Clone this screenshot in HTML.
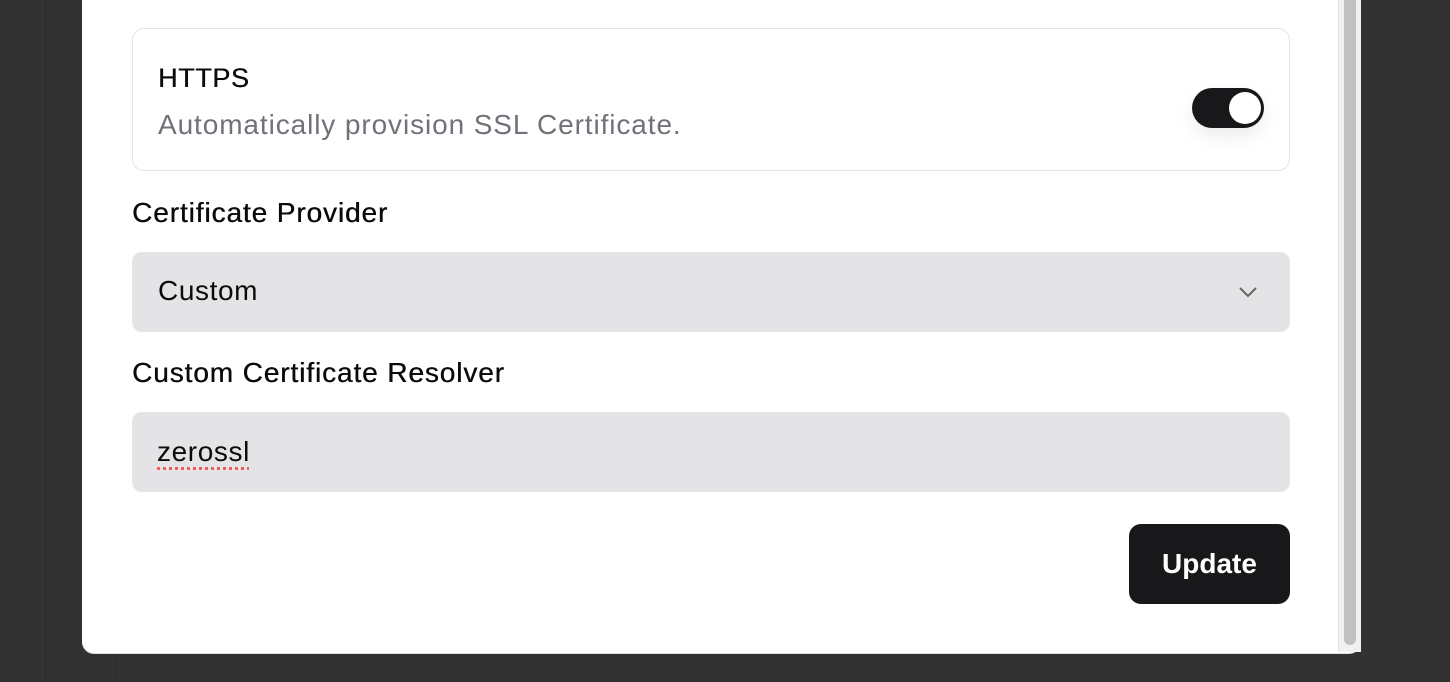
<!DOCTYPE html>
<html><head><style>
body{margin:0;width:1450px;height:682px;background:#323232;position:relative;overflow:hidden;font-family:"Liberation Sans",sans-serif}
.l{position:absolute;top:0;bottom:0;width:1px;background:#2a2a2a}
.panel{position:absolute;left:82px;top:-20px;width:1279px;height:673px;background:#fff;border-radius:12px;box-shadow:0 1px 0 #ddd}
.sb{position:absolute;left:1338px;top:0;width:22px;height:652px;background:#f1f1f1;border-left:1px solid #e4e4e4}
.thumb{position:absolute;left:1344px;top:0;width:12px;height:645px;background:#c1c1c1;border-radius:0 0 6px 6px}
.card{position:absolute;left:132px;top:28px;width:1156px;height:141px;border:1px solid #e4e4e7;border-radius:12px;background:#fff}
.t{position:absolute;color:#0b0b0c;font-size:28px;letter-spacing:0.6px}
.m{text-shadow:0.4px 0 0 #0b0b0c}
.inp{position:absolute;left:132px;width:1158px;height:80px;background:#e4e4e7;border-radius:10px}
.tog{position:absolute;left:1192px;top:88px;width:72px;height:40px;background:#18181b;border-radius:20px;box-shadow:0 8px 18px rgba(0,0,0,.08)}
.knob{position:absolute;right:3px;top:4px;width:32px;height:32px;background:#fff;border-radius:50%}
.btn{position:absolute;left:1129px;top:524px;width:161px;height:80px;background:#18181b;border-radius:12px;color:#fff;font-size:28px;font-weight:bold;text-align:center;line-height:80px}
</style></head><body>
<div class="l" style="left:45px"></div><div class="l" style="left:115px"></div>
<div class="panel"></div>
<div class="sb"></div><div class="thumb"></div>
<div class="card"></div>
<div class="t m" style="left:158px;top:63px;font-size:27px">HTTPS</div>
<div class="t" style="left:158px;top:109px;color:#71717a;letter-spacing:0.9px">Automatically provision SSL Certificate.</div>
<div class="tog"><div class="knob"></div></div>
<div class="t m" style="left:132px;top:197px;letter-spacing:0.9px">Certificate Provider</div>
<div class="inp" style="top:252px"></div>
<div class="t" style="left:158px;top:275px">Custom</div>
<svg style="position:absolute;left:1238px;top:285px" width="20" height="14"><path d="M2 3l8 8 8-8" fill="none" stroke="#666" stroke-width="2"/></svg>
<div class="t m" style="left:132px;top:357px;letter-spacing:0.9px">Custom Certificate Resolver</div>
<div class="inp" style="top:412px"></div>
<div class="t" style="left:157px;top:436px;text-decoration:underline dotted #e55;text-underline-offset:6px">zerossl</div>
<div class="btn">Update</div>
</body></html>
